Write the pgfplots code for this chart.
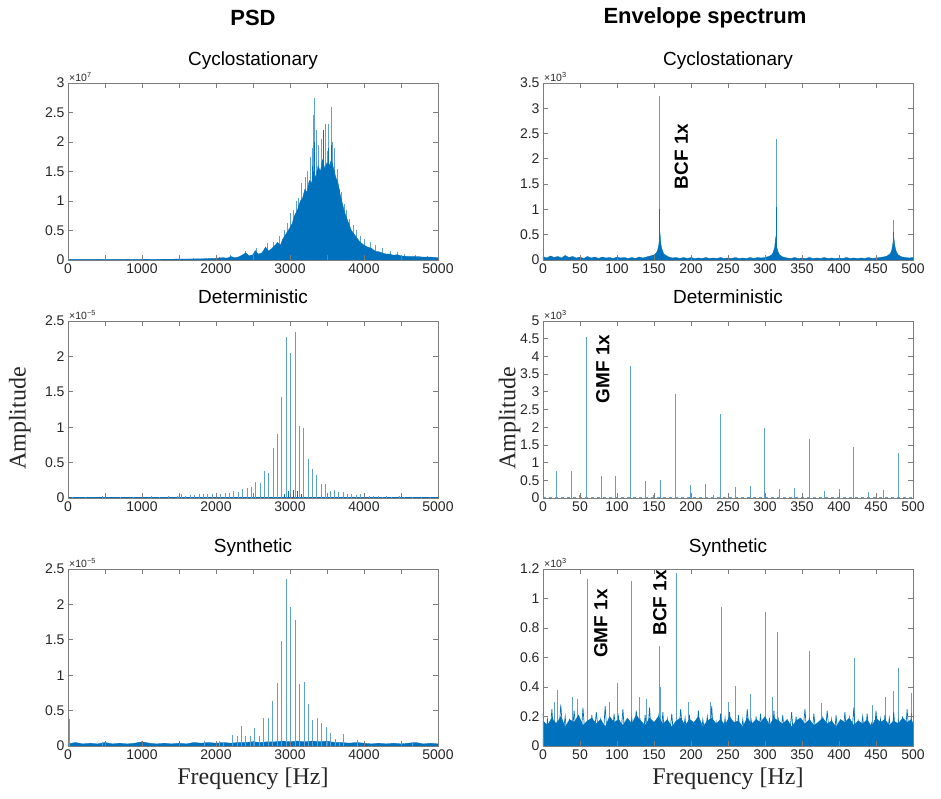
\documentclass[border=0pt]{standalone}
\usepackage{fontspec}
\setmainfont{Liberation Sans}
\newfontfamily\seriffam{Liberation Serif}
\usepackage{pgfplots}
\pgfplotsset{compat=1.18}
\definecolor{mblue}{RGB}{0,114,189}
\definecolor{lblue}{RGB}{95,160,212}
\definecolor{axgray}{RGB}{125,125,125}
\definecolor{txt}{RGB}{38,38,38}
\tikzset{
 mult/.style={font=\fontsize{10.5}{10.5}\selectfont, text=txt, anchor=south west, inner sep=1pt},
 annot/.style={rotate=90, font=\bfseries\fontsize{19}{19}\selectfont, text=black, inner sep=0pt},
}
\pgfplotsset{
 panel/.style={
  width=370pt, height=177pt, scale only axis,
  axis line style={axgray, line width=0.7pt},
  every tick/.style={axgray, line width=0.7pt},
  major tick length=5pt, minor tick length=5pt,
  tick align=inside,
  ticklabel style={font=\fontsize{14}{14}\selectfont, text=txt},
  /pgf/number format/assume math mode=true,
  /pgf/number format/1000 sep={},
  scaled ticks=false,
  title style={font=\fontsize{19}{19}\selectfont, text=black, at={(0.5,1)}, anchor=base, inner sep=0pt, yshift=11pt},
  clip=false, axis on top,
  xlabel style={font=\seriffam\fontsize{24}{24}\selectfont, text=txt, at={(axis description cs:0.5,-0.185)}, anchor=center},
  ylabel style={font=\seriffam\fontsize{24}{24}\selectfont, text=txt, anchor=center},
 },
 lpanel/.style={panel, xmin=0, xmax=5000, xtick={0,1000,...,5000}, minor x tick num=1},
 rpanel/.style={panel, xmin=0, xmax=500, xtick={0,50,...,500}},
}
\begin{document}
\begin{tikzpicture}
\path[use as bounding box] (0pt,0pt) rectangle (941pt,798pt);
\node[font=\bfseries\fontsize{22}{22}\selectfont] at (253pt,780pt) {PSD};
\node[font=\bfseries\fontsize{22}{22}\selectfont] at (705pt,780pt) {Envelope spectrum};

% ---------- L1: PSD cyclostationary ----------
\begin{axis}[lpanel, at={(68pt,715pt)}, anchor=north west, ymin=0, ymax=3, ytick={0,0.5,...,3}, title={Cyclostationary}]
\addplot[ycomb, lblue, line width=0.8pt] coordinates {
(3330,2.75)(3320,2.45)(3300,1.9)(3280,1.75)(3350,2.2)(3390,1.95)(3420,2.05)(3450,2.2)(3480,2.3)(3500,1.85)(3520,2.3)(3560,2.6)(3575,2.0)(3600,1.9)(3240,1.5)(3210,1.4)(3150,1.3)(3120,1.05)(3080,1.0)(3050,0.85)(3000,0.8)(2960,0.62)(2930,0.5)(3640,1.55)(3670,1.2)(3700,1.15)(3730,0.95)(3760,0.85)(3800,0.7)(3850,0.6)(3900,0.5)(3950,0.4)(4000,0.35)(4080,0.3)(4150,0.25)(4250,0.2)(4350,0.15)(4450,0.14)(4550,0.1)(4700,0.08)(4850,0.07)(2850,0.4)(2780,0.3)(2700,0.28)(2540,0.2)(2400,0.15)(2200,0.08)(2050,0.05)(1900,0.04)(1700,0.03)(1500,0.03)(1200,0.02)(800,0.02)(400,0.015)
};
\addplot[fill=mblue, draw=mblue, line width=0.3pt] coordinates {
(0,0.01)(500,0.01)(1000,0.01)(1500,0.015)(1800,0.02)(2000,0.03)(2100,0.04)(2150,0.03)(2200,0.06)(2250,0.04)(2300,0.05)(2350,0.08)(2400,0.12)(2450,0.07)(2500,0.09)(2530,0.16)(2570,0.10)(2620,0.12)(2670,0.22)(2710,0.15)(2760,0.20)(2800,0.25)(2830,0.30)(2870,0.25)(2900,0.35)(2950,0.45)(3000,0.55)(3030,0.62)(3060,0.75)(3100,0.85)(3140,1.0)(3170,1.05)(3200,1.2)(3230,1.15)(3260,1.35)(3290,1.3)(3320,1.5)(3350,1.4)(3380,1.6)(3410,1.5)(3440,1.7)(3470,1.55)(3500,1.65)(3530,1.6)(3560,1.7)(3590,1.55)(3620,1.4)(3650,1.3)(3680,1.1)(3710,0.95)(3740,0.8)(3770,0.7)(3800,0.6)(3830,0.5)(3860,0.45)(3900,0.38)(3950,0.3)(4000,0.25)(4050,0.22)(4100,0.2)(4150,0.15)(4200,0.14)(4250,0.12)(4300,0.1)(4350,0.1)(4400,0.08)(4450,0.09)(4500,0.07)(4600,0.06)(4700,0.06)(4800,0.05)(4900,0.05)(5000,0.04)
} \closedcycle;
\addplot[ycomb, mblue, line width=0.8pt] coordinates {(3335,2.0)(3455,2.2)(3520,1.9)(3560,1.95)(3300,1.6)};
\node[mult] at (rel axis cs:0,1) {×10\textsuperscript{7}};
\end{axis}

% ---------- L2: PSD deterministic ----------
\begin{axis}[lpanel, at={(68pt,477pt)}, anchor=north west, ymin=0, ymax=2.5, ytick={0,0.5,...,2.5}, title={Deterministic},
 ylabel={Amplitude}, ylabel style={at={(axis description cs:-0.13,0.45)}}]
\addplot[mblue, line width=0.8pt] coordinates {(0,0.01)(5000,0.01)};
\addplot[ycomb, lblue, line width=0.9pt] coordinates {
(59,0.02)(236,0.02)(472,0.03)(708,0.02)(885,0.02)(1003,0.03)(1121,0.03)(1239,0.02)(1357,0.03)(1475,0.03)(1534,0.05)(1593,0.03)(1652,0.04)(1711,0.04)(1770,0.05)(1829,0.05)(1888,0.05)(1947,0.06)(2006,0.06)(2065,0.06)(2124,0.07)(2183,0.07)(2242,0.10)(2301,0.09)(2360,0.13)(2419,0.14)(2478,0.16)(2537,0.22)(2596,0.21)(2655,0.38)(2714,0.35)(2773,0.71)(2832,0.90)(2891,1.43)(2950,2.27)(3009,2.05)(3068,2.34)(3127,1.02)(3186,0.99)(3245,0.55)(3304,0.41)(3363,0.32)(3422,0.20)(3481,0.20)(3540,0.10)(3599,0.12)(3658,0.08)(3717,0.08)(3776,0.06)(3835,0.05)(3894,0.04)(3953,0.05)(4012,0.04)(4071,0.03)(4130,0.03)(4189,0.03)(4248,0.02)(4307,0.03)(4366,0.02)(4484,0.03)(4543,0.02)(4661,0.02)(4779,0.02)(4897,0.02)
};
\addplot[ycomb, mblue, line width=0.9pt] coordinates {(2980,0.1)(3040,0.12)(3100,0.1)(2920,0.06)(3160,0.06)(2500,0.05)(3500,0.06)};
\node[mult] at (rel axis cs:0,1) {×10\textsuperscript{−5}};
\end{axis}

% ---------- L3: PSD synthetic ----------
\begin{axis}[lpanel, at={(68pt,229pt)}, anchor=north west, ymin=0, ymax=2.5, ytick={0,0.5,...,2.5}, title={Synthetic},
 xlabel={Frequency [Hz]}]
\addplot[fill=mblue, draw=mblue, line width=0.3pt] coordinates {
(0,0.03)(100,0.05)(200,0.03)(300,0.04)(400,0.03)(500,0.05)(600,0.03)(700,0.04)(800,0.03)(900,0.04)(1000,0.06)(1100,0.04)(1200,0.03)(1300,0.04)(1400,0.03)(1500,0.04)(1600,0.03)(1700,0.05)(1800,0.04)(1900,0.05)(2000,0.04)(2100,0.05)(2200,0.04)(2300,0.05)(2400,0.05)(2500,0.06)(2600,0.05)(2700,0.06)(2800,0.06)(2900,0.07)(3000,0.06)(3100,0.07)(3200,0.06)(3300,0.07)(3400,0.06)(3500,0.07)(3600,0.05)(3700,0.05)(3800,0.04)(3900,0.05)(4000,0.04)(4100,0.03)(4200,0.04)(4300,0.03)(4400,0.04)(4500,0.03)(4600,0.04)(4700,0.05)(4800,0.03)(4900,0.04)(5000,0.03)
} \closedcycle;
\addplot[ycomb, lblue, line width=0.9pt] coordinates {
(14,0.38)(470,0.06)(1000,0.07)(1850,0.07)(2050,0.07)(2095,0.06)(2222,0.15)(2285,0.14)(2344,0.28)(2403,0.14)(2466,0.14)(2525,0.25)(2584,0.14)(2647,0.39)(2706,0.40)(2765,0.63)(2828,0.89)(2887,1.49)(2946,2.36)(3009,1.96)(3068,1.78)(3127,0.87)(3190,0.90)(3249,0.59)(3308,0.37)(3371,0.40)(3430,0.32)(3489,0.27)(3552,0.19)(3611,0.10)(3670,0.06)(3724,0.17)(3905,0.08)(4650,0.06)
};
\node[mult] at (rel axis cs:0,1) {×10\textsuperscript{−5}};
\end{axis}

% ---------- R1: Envelope cyclostationary ----------
\begin{axis}[rpanel, at={(543pt,715pt)}, anchor=north west, ymin=0, ymax=3.5, ytick={0,0.5,...,3.5}, title={Cyclostationary}]
\addplot[fill=mblue, draw=mblue, line width=0.3pt] coordinates {
(0,0.07)(5,0.04)(10,0.08)(15,0.05)(20,0.07)(25,0.04)(30,0.09)(35,0.05)(40,0.07)(45,0.04)(50,0.06)(55,0.03)(60,0.07)(65,0.04)(70,0.06)(75,0.03)(80,0.06)(85,0.04)(90,0.05)(95,0.03)(100,0.06)(105,0.04)(110,0.05)(115,0.03)(120,0.05)(125,0.03)(130,0.06)(135,0.04)(140,0.06)(145,0.08)(150,0.10)(153,0.14)(155,0.2)(156.5,0.3)(158,0.55)(159.5,0.3)(161,0.2)(163,0.13)(166,0.09)(170,0.06)(175,0.04)(180,0.05)(185,0.03)(190,0.05)(195,0.03)(200,0.05)(205,0.03)(210,0.04)(215,0.03)(220,0.05)(225,0.03)(230,0.04)(235,0.03)(240,0.05)(245,0.03)(250,0.04)(255,0.03)(260,0.05)(265,0.03)(270,0.04)(275,0.03)(280,0.05)(285,0.03)(290,0.05)(295,0.04)(300,0.05)(305,0.07)(309,0.1)(311,0.15)(313,0.25)(314.5,0.45)(316,0.25)(318,0.15)(320,0.1)(324,0.06)(330,0.04)(335,0.03)(340,0.05)(345,0.03)(350,0.04)(355,0.03)(360,0.05)(365,0.03)(370,0.04)(375,0.03)(380,0.05)(385,0.03)(390,0.04)(395,0.03)(400,0.04)(405,0.03)(410,0.05)(415,0.03)(420,0.04)(425,0.03)(430,0.04)(435,0.03)(440,0.05)(445,0.03)(450,0.04)(455,0.05)(460,0.06)(465,0.08)(469,0.12)(471,0.18)(472.5,0.3)(474,0.45)(475.5,0.28)(477,0.18)(480,0.1)(485,0.06)(490,0.05)(495,0.04)(500,0.05)
} \closedcycle;
\addplot[ycomb, lblue, line width=0.9pt] coordinates {(158,3.25)(316,2.4)(474,0.8)};
\addplot[ycomb, mblue, line width=0.9pt] coordinates {(158,1.0)(316,1.05)(474,0.55)};
\node[mult] at (rel axis cs:0,1) {×10\textsuperscript{3}};
\node[annot] at (axis cs:187,2.05) {BCF 1x};
\end{axis}

% ---------- R2: Envelope deterministic ----------
\begin{axis}[rpanel, at={(543pt,477pt)}, anchor=north west, ymin=0, ymax=5, ytick={0,0.5,...,5}, title={Deterministic},
 ylabel={Amplitude}, ylabel style={at={(axis description cs:-0.09,0.45)}}]
\addplot[lblue, line width=0.6pt, dashed] coordinates {(0,0.03)(500,0.03)};
\addplot[ycomb, lblue, line width=0.9pt] coordinates {
(18.5,0.75)(38.3,0.75)(48.6,0.08)(58.6,4.55)(78.8,0.63)(98.2,0.63)(118.5,3.72)(138.7,0.48)(148.6,0.08)(159,0.50)(178.8,2.95)(199,0.38)(218.9,0.40)(229.7,0.08)(239.6,2.38)(259.5,0.30)(279.7,0.33)(299.5,1.98)(319.8,0.25)(340,0.28)(350,0.08)(359.5,1.67)(380,0.20)(400,0.25)(419.8,1.45)(440,0.18)(450.5,0.08)(460.4,0.22)(480.6,1.27)
};
\node[mult] at (rel axis cs:0,1) {×10\textsuperscript{3}};
\node[annot] at (axis cs:81,3.65) {GMF 1x};
\end{axis}

% ---------- R3: Envelope synthetic ----------
\begin{axis}[rpanel, at={(543pt,229pt)}, anchor=north west, ymin=0, ymax=1.2, ytick={0,0.2,...,1.2},
 yticklabel style={/pgf/number format/fixed, /pgf/number format/precision=1}, title={Synthetic},
 xlabel={Frequency [Hz]}]
\addplot[ycomb, lblue, line width=0.9pt] coordinates {
(59.6,1.13)(120,1.12)(157.5,0.68)(158.5,0.40)(180.5,1.17)(240.5,0.94)(300,0.91)(316.5,0.77)(360,0.645)(420.5,0.595)(480.3,0.53)(100,0.43)(260,0.41)(280,0.35)(20,0.38)(498,0.36)(473,0.37)(463,0.33)(40,0.33)(131,0.33)(140,0.32)(46,0.32)(196,0.3)(226,0.3)(376,0.29)(445,0.28)(15,0.3)(90,0.3)(250,0.3)(310,0.33)
};
\addplot[fill=mblue, draw=mblue, line width=0.3pt] coordinates {
(0,0.17)(6,0.14)(12,0.19)(18,0.15)(24,0.20)(30,0.13)(36,0.18)(42,0.16)(48,0.21)(54,0.14)(60,0.17)(66,0.19)(72,0.15)(78,0.18)(84,0.13)(90,0.20)(96,0.16)(102,0.18)(108,0.14)(114,0.19)(120,0.15)(126,0.21)(132,0.17)(138,0.14)(144,0.19)(150,0.16)(156,0.20)(162,0.15)(168,0.18)(174,0.13)(180,0.17)(186,0.19)(192,0.14)(198,0.18)(204,0.16)(210,0.20)(216,0.13)(222,0.17)(228,0.19)(234,0.15)(240,0.18)(246,0.14)(252,0.20)(258,0.16)(264,0.17)(270,0.13)(276,0.19)(282,0.15)(288,0.18)(294,0.16)(300,0.20)(306,0.14)(312,0.19)(318,0.17)(324,0.15)(330,0.18)(336,0.13)(342,0.17)(348,0.19)(354,0.15)(360,0.18)(366,0.14)(372,0.16)(378,0.19)(384,0.15)(390,0.17)(396,0.13)(402,0.18)(408,0.16)(414,0.19)(420,0.14)(426,0.17)(432,0.15)(438,0.18)(444,0.13)(450,0.19)(456,0.16)(462,0.18)(468,0.14)(474,0.17)(480,0.15)(486,0.19)(492,0.16)(498,0.18)(500,0.15)
} \closedcycle;
\addplot[mblue, line width=0.7pt] coordinates {
(0,0.22)(3,0.03)(6,0.18)(9,0.06)(12,0.25)(15,0.02)(18,0.15)(21,0.05)(24,0.28)(27,0.08)(30,0.20)(33,0.01)(36,0.17)(39,0.04)(42,0.24)(45,0.07)(48,0.19)(51,0.03)(54,0.26)(57,0.05)(60,0.14)(63,0.02)(66,0.21)(69,0.06)(72,0.23)(75,0.09)(78,0.18)(81,0.03)(84,0.27)(87,0.04)(90,0.16)(93,0.01)(96,0.22)(99,0.07)(102,0.20)(105,0.05)(108,0.25)(111,0.02)(114,0.13)(117,0.06)(120,0.19)(123,0.04)(126,0.24)(129,0.08)(132,0.17)(135,0.03)(138,0.21)(141,0.05)(144,0.26)(147,0.02)(150,0.15)(153,0.07)(156,0.20)(159,0.04)(162,0.23)(165,0.01)(168,0.18)(171,0.06)(174,0.22)(177,0.03)(180,0.16)(183,0.05)(186,0.25)(189,0.08)(192,0.19)(195,0.02)(198,0.21)(201,0.04)(204,0.14)(207,0.06)(210,0.24)(213,0.03)(216,0.18)(219,0.07)(222,0.20)(225,0.05)(228,0.27)(231,0.01)(234,0.16)(237,0.04)(240,0.22)(243,0.06)(246,0.19)(249,0.02)(252,0.23)(255,0.08)(258,0.15)(261,0.03)(264,0.21)(267,0.05)(270,0.18)(273,0.04)(276,0.25)(279,0.07)(282,0.17)(285,0.02)(288,0.20)(291,0.06)(294,0.22)(297,0.03)(300,0.14)(303,0.05)(306,0.19)(309,0.01)(312,0.24)(315,0.04)(318,0.18)(321,0.07)(324,0.21)(327,0.03)(330,0.16)(333,0.06)(336,0.23)(339,0.02)(342,0.20)(345,0.05)(348,0.17)(351,0.08)(354,0.25)(357,0.04)(360,0.19)(363,0.03)(366,0.22)(369,0.06)(372,0.15)(375,0.02)(378,0.20)(381,0.05)(384,0.24)(387,0.07)(390,0.18)(393,0.01)(396,0.21)(399,0.04)(402,0.16)(405,0.06)(408,0.23)(411,0.03)(414,0.19)(417,0.05)(420,0.26)(423,0.02)(426,0.17)(429,0.08)(432,0.20)(435,0.04)(438,0.22)(441,0.06)(444,0.15)(447,0.03)(450,0.24)(453,0.05)(456,0.18)(459,0.01)(462,0.21)(465,0.07)(468,0.19)(471,0.04)(474,0.23)(477,0.02)(480,0.17)(483,0.06)(486,0.20)(489,0.03)(492,0.25)(495,0.05)(498,0.22)
};
\node[mult] at (rel axis cs:0,1) {×10\textsuperscript{3}};
\node[annot] at (axis cs:78,0.83) {GMF 1x};
\node[annot] at (axis cs:158,0.97) {BCF 1x};
\end{axis}
\end{tikzpicture}
\end{document}
